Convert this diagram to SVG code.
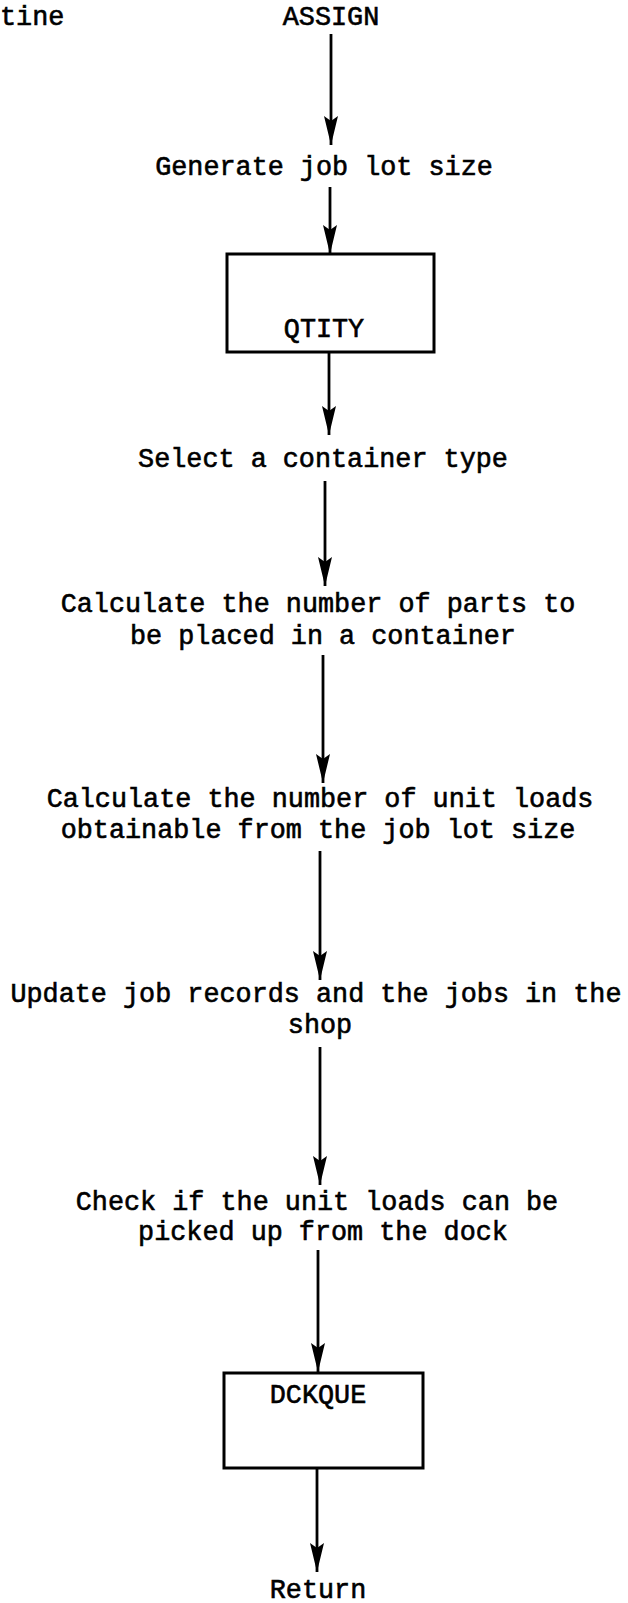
<svg xmlns="http://www.w3.org/2000/svg" width="628" height="1603" viewBox="0 0 628 1603">
  <style>
    text { font-family: "Liberation Mono", "Courier New", monospace; font-size: 26.8px; fill: #000; stroke: #000; stroke-width: 0.6; text-anchor: middle; }
    .box { fill: #fff; stroke: #000; stroke-width: 3; }
    .flow { stroke: #000; stroke-width: 2.8; fill: none; marker-end: url(#head); }
  </style>
  <defs>
    <marker id="head" markerUnits="userSpaceOnUse" viewBox="0 -8 30 16" refX="29" refY="0" markerWidth="30" markerHeight="16" orient="auto">
      <path d="M0,-7 L29,0 L0,7 L5,0 Z" fill="#000"/>
    </marker>
  </defs>

  <!-- page header fragment -->
  <text id="hdr" x="0" y="25" style="text-anchor:start">tine</text>

  <g id="n-assign"><text x="331" y="25">ASSIGN</text></g>
  <g id="n-generate"><text x="324" y="175">Generate job lot size</text></g>
  <g id="n-qtity">
    <rect class="box" x="227" y="254" width="207" height="98"/>
    <text x="324" y="337">QTITY</text>
  </g>
  <g id="n-select"><text x="323" y="467">Select a container type</text></g>
  <g id="n-parts">
    <text x="318" y="612">Calculate the number of parts to</text>
    <text x="323" y="644">be placed in a container</text>
  </g>
  <g id="n-loads">
    <text x="320" y="807">Calculate the number of unit loads</text>
    <text x="318" y="838">obtainable from the job lot size</text>
  </g>
  <g id="n-update">
    <text x="316" y="1002">Update job records and the jobs in the</text>
    <text x="320" y="1033">shop</text>
  </g>
  <g id="n-check">
    <text x="317" y="1210">Check if the unit loads can be</text>
    <text x="323" y="1240">picked up from the dock</text>
  </g>
  <g id="n-dckque">
    <rect class="box" x="224" y="1373" width="199" height="95"/>
    <text x="318" y="1403">DCKQUE</text>
  </g>
  <g id="n-return"><text x="318" y="1598">Return</text></g>

  <g id="connectors">
    <line class="flow" x1="331" y1="34" x2="331" y2="145"/>
    <line class="flow" x1="330" y1="187" x2="330" y2="254"/>
    <line class="flow" x1="329" y1="352" x2="329" y2="435"/>
    <line class="flow" x1="325" y1="481" x2="325" y2="586"/>
    <line class="flow" x1="323" y1="655" x2="323" y2="783"/>
    <line class="flow" x1="320" y1="851" x2="320" y2="980"/>
    <line class="flow" x1="320" y1="1047" x2="320" y2="1185"/>
    <line class="flow" x1="318" y1="1250" x2="318" y2="1372"/>
    <line class="flow" x1="317" y1="1468" x2="317" y2="1572"/>
  </g>
</svg>
